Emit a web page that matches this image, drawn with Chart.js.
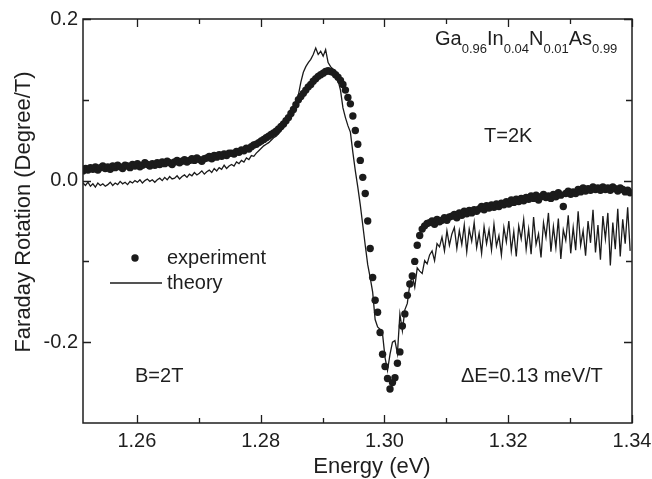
<!DOCTYPE html>
<html lang="en">
<head>
<meta charset="UTF-8" />
<title>Faraday Rotation - GaInNAs</title>
<script src="https://cdn.jsdelivr.net/npm/chart.js"></script>
<style>
  html, body { margin: 0; padding: 0; background: #fff; }
</style>
</head>
<body>
<canvas id="chart" width="652" height="479"></canvas>
<script>
  // energy grid the two spectra were read on (eV)
  const energyStart = 1.2513;
  const energyStep = 0.0004;

  // Faraday rotation, Degree/T, one value per grid point
  const experimentValues = [
    0.012, 0.015, 0.013, 0.016, 0.014, 0.017, 0.013, 0.016, 0.018, 0.015,
    0.017, 0.014, 0.018, 0.016, 0.019, 0.017, 0.015, 0.019, 0.018, 0.016,
    0.020, 0.018, 0.021, 0.017, 0.019, 0.022, 0.020, 0.018, 0.021, 0.019,
    0.022, 0.020, 0.023, 0.021, 0.024, 0.022, 0.020, 0.023, 0.025, 0.022,
    0.024, 0.026, 0.023, 0.025, 0.027, 0.025, 0.028, 0.026, 0.024, 0.027,
    0.028, 0.030, 0.027, 0.031, 0.029, 0.032, 0.030, 0.033, 0.031, 0.034,
    0.034, 0.033, 0.036, 0.035, 0.038, 0.037, 0.040, 0.039, 0.042, 0.044,
    0.045, 0.047, 0.049, 0.051, 0.053, 0.055, 0.057, 0.059, 0.061, 0.064,
    0.067, 0.070, 0.074, 0.078, 0.083, 0.088, 0.094, 0.100, 0.104, 0.108,
    0.112, 0.116, 0.119, 0.123, 0.126, 0.129, 0.131, 0.133, 0.135, 0.136,
    0.135, 0.134, 0.131, 0.128, 0.124, 0.119, 0.112, 0.103, 0.095, 0.080,
    0.062, 0.045, 0.025, 0.004, -0.016, -0.050, -0.084, -0.120, -0.148, -0.163,
    -0.188, -0.215, -0.230, -0.245, -0.258, -0.250, -0.244, -0.226, -0.212, -0.180,
    -0.165, -0.142, -0.128, -0.118, -0.100, -0.080, -0.068, -0.060, -0.056, -0.053,
    -0.052, -0.050, -0.054, -0.048, -0.051, -0.049, -0.046, -0.049, -0.045, -0.044,
    -0.042, -0.046, -0.040, -0.043, -0.038, -0.041, -0.037, -0.040, -0.036, -0.038,
    -0.035, -0.032, -0.036, -0.031, -0.034, -0.030, -0.033, -0.029, -0.032, -0.028,
    -0.030, -0.026, -0.029, -0.024, -0.027, -0.023, -0.026, -0.022, -0.025, -0.021,
    -0.023, -0.019, -0.022, -0.018, -0.024, -0.020, -0.017, -0.021, -0.019, -0.022,
    -0.017, -0.020, -0.015, -0.018, -0.032, -0.016, -0.013, -0.017, -0.014, -0.016,
    -0.011, -0.014, -0.009, -0.013, -0.010, -0.012, -0.008, -0.011, -0.009, -0.012,
    -0.008, -0.011, -0.009, -0.012, -0.008, -0.010, -0.013, -0.009, -0.011, -0.014, -0.012, -0.015
  ];

  const theoryValues = [
    -0.003, -0.006, -0.002, -0.007, -0.004, -0.008, -0.003, -0.006, -0.004, -0.007,
    -0.005, -0.002, -0.006, -0.003, -0.005, -0.001, -0.004, -0.002, -0.005, -0.001,
    -0.003, 0.000, -0.002, 0.001, -0.003, 0.000, 0.002, -0.001, 0.001, -0.002,
    0.001, 0.003, 0.000, 0.004, 0.001, 0.005, 0.002, 0.003, 0.006, 0.002,
    0.005, 0.007, 0.004, 0.008, 0.006, 0.010, 0.007, 0.009, 0.012, 0.008,
    0.011, 0.013, 0.010, 0.015, 0.012, 0.016, 0.014, 0.019, 0.015, 0.018,
    0.020, 0.018, 0.023, 0.021, 0.025, 0.023, 0.028, 0.026, 0.031, 0.030,
    0.034, 0.037, 0.040, 0.043, 0.045, 0.047, 0.050, 0.053, 0.055, 0.058,
    0.062, 0.066, 0.071, 0.076, 0.082, 0.088, 0.095, 0.106, 0.122, 0.134,
    0.141, 0.146, 0.150, 0.156, 0.164, 0.156, 0.160, 0.154, 0.162, 0.146,
    0.141, 0.138, 0.130, 0.124, 0.112, 0.090, 0.078, 0.068, 0.060, 0.035,
    0.012, -0.008, -0.030, -0.055, -0.080, -0.104, -0.120, -0.138, -0.172, -0.181,
    -0.184, -0.190, -0.219, -0.235, -0.215, -0.200, -0.198, -0.214, -0.165, -0.186,
    -0.160, -0.152, -0.128, -0.118, -0.132, -0.108, -0.112, -0.115, -0.099, -0.103,
    -0.092, -0.087, -0.099, -0.078, -0.082, -0.070, -0.087, -0.062, -0.080, -0.066,
    -0.058, -0.084, -0.062, -0.079, -0.055, -0.088, -0.060, -0.075, -0.052, -0.083,
    -0.065, -0.090, -0.057, -0.078, -0.061, -0.086, -0.054, -0.081, -0.068, -0.092,
    -0.058, -0.076, -0.050, -0.087, -0.063, -0.094, -0.056, -0.072, -0.048, -0.085,
    -0.060, -0.091, -0.045, -0.079, -0.066, -0.095, -0.052, -0.070, -0.040, -0.088,
    -0.057, -0.083, -0.047, -0.097, -0.061, -0.074, -0.043, -0.090, -0.058, -0.086,
    -0.038, -0.080, -0.062, -0.093, -0.050, -0.077, -0.036, -0.089, -0.055, -0.098,
    -0.044, -0.072, -0.040, -0.105, -0.052, -0.085, -0.035, -0.094, -0.048, -0.078, -0.033, -0.087
  ];

  const xTickValues = [1.26, 1.28, 1.30, 1.32, 1.34];
  const xMinorTicks = [1.27, 1.29, 1.31, 1.33];
  const yTickValues = [-0.2, 0.0, 0.2];
  const yMinorTicks = [-0.1, 0.1];

  const ink = '#1e1e1e';
  const fontFamily = '"Liberation Sans", Arial, Helvetica, sans-serif';

  const toPoints = vals => vals.map((v, i) => ({ x: +(energyStart + i * energyStep).toFixed(4), y: v }));

  // frame, inward ticks on all sides, legend and the text labels
  const framePlugin = {
    id: 'framePlugin',
    afterDraw(chart) {
      const ctx = chart.ctx;
      const a = chart.chartArea;
      const xs = chart.scales.x;
      const ys = chart.scales.y;
      ctx.save();
      ctx.strokeStyle = ink;
      ctx.lineWidth = 1.5;
      ctx.strokeRect(a.left, a.top, a.right - a.left, a.bottom - a.top);

      ctx.lineWidth = 1.3;
      ctx.beginPath();
      const xTick = (v, len) => {
        const px = Math.round(xs.getPixelForValue(v)) + 0.5;
        ctx.moveTo(px, a.bottom); ctx.lineTo(px, a.bottom - len);
        ctx.moveTo(px, a.top); ctx.lineTo(px, a.top + len);
      };
      const yTick = (v, len) => {
        const py = Math.round(ys.getPixelForValue(v)) + 0.5;
        ctx.moveTo(a.left, py); ctx.lineTo(a.left + len, py);
        ctx.moveTo(a.right, py); ctx.lineTo(a.right - len, py);
      };
      xTickValues.forEach(v => xTick(v, 8));
      xMinorTicks.forEach(v => xTick(v, 5));
      yTickValues.forEach(v => yTick(v, 8));
      yMinorTicks.forEach(v => yTick(v, 6));
      ctx.stroke();

      // legend
      const exp = chart.data.datasets[0];
      const th = chart.data.datasets[1];
      ctx.fillStyle = exp.backgroundColor;
      ctx.beginPath();
      ctx.arc(135, 258, exp.pointRadius, 0, Math.PI * 2);
      ctx.fill();
      ctx.strokeStyle = th.borderColor;
      ctx.lineWidth = th.borderWidth;
      ctx.beginPath();
      ctx.moveTo(110, 283); ctx.lineTo(162, 283);
      ctx.stroke();

      ctx.fillStyle = ink;
      ctx.textBaseline = 'middle';
      ctx.textAlign = 'left';
      ctx.font = '20px ' + fontFamily;
      ctx.fillText(exp.label, 167, 258);
      ctx.fillText(th.label, 167, 283);

      ctx.textBaseline = 'alphabetic';
      ctx.fillText('T=2K', 484, 142);
      ctx.fillText('B=2T', 135, 382);
      ctx.fillText('\u0394E=0.13 meV/T', 461, 382);

      // composition with subscripts
      let x = 435;
      [['Ga', '0.96'], ['In', '0.04'], ['N', '0.01'], ['As', '0.99']].forEach(([el, sub]) => {
        ctx.font = '20px ' + fontFamily;
        ctx.fillText(el, x, 45);
        x += ctx.measureText(el).width;
        ctx.font = '13px ' + fontFamily;
        ctx.fillText(sub, x, 53);
        x += ctx.measureText(sub).width;
      });

      // axis titles
      ctx.font = '22px ' + fontFamily;
      ctx.textAlign = 'center';
      ctx.fillText('Energy (eV)', 372, 473);
      ctx.translate(24, 212);
      ctx.rotate(-Math.PI / 2);
      ctx.textBaseline = 'middle';
      ctx.fillText('Faraday Rotation (Degree/T)', 0, 0);
      ctx.restore();
    }
  };

  new Chart(document.getElementById('chart'), {
    type: 'scatter',
    data: {
      datasets: [
        {
          label: 'experiment',
          data: toPoints(experimentValues),
          showLine: false,
          pointRadius: 3.7,
          pointHoverRadius: 3.7,
          backgroundColor: '#1b1b1b',
          borderWidth: 0
        },
        {
          label: 'theory',
          data: toPoints(theoryValues),
          showLine: true,
          pointRadius: 0,
          borderColor: '#1b1b1b',
          borderWidth: 1.3,
          tension: 0
        }
      ]
    },
    options: {
      responsive: false,
      animation: false,
      layout: { padding: { left: 0, right: 20, top: 19, bottom: 0 } },
      plugins: { legend: { display: false }, tooltip: { enabled: false } },
      scales: {
        x: {
          type: 'linear',
          min: 1.2513,
          max: 1.34,
          afterBuildTicks: s => { s.ticks = xTickValues.map(v => ({ value: v })); },
          afterFit: s => { s.height = 56; s.paddingLeft = 0; s.paddingRight = 0; },
          grid: { display: false, drawTicks: false },
          border: { display: false },
          ticks: {
            padding: 6,
            color: ink,
            font: { family: fontFamily, size: 20 },
            maxRotation: 0,
            callback: v => v.toFixed(2)
          }
        },
        y: {
          type: 'linear',
          min: -0.3,
          max: 0.2,
          afterBuildTicks: s => { s.ticks = yTickValues.map(v => ({ value: v })); },
          afterFit: s => { s.width = 83; s.paddingTop = 0; s.paddingBottom = 0; },
          grid: { display: false, drawTicks: false },
          border: { display: false },
          ticks: {
            padding: 5,
            color: ink,
            font: { family: fontFamily, size: 20 },
            callback: v => v.toFixed(1)
          }
        }
      }
    },
    plugins: [framePlugin]
  });
</script>
</body>
</html>
